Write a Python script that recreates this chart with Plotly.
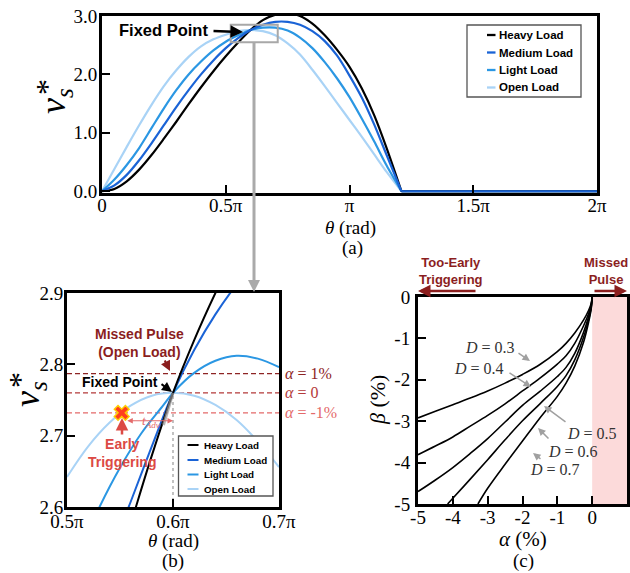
import plotly.graph_objects as go

W, H = 630, 573

# ---------------- Panel (a) data : theta in units of pi ----------------
theta_a = [0, 0.05, 0.1, 0.15, 0.2, 0.25, 0.3, 0.35, 0.4, 0.45, 0.5, 0.55, 0.6,
           0.65, 0.7, 0.75, 0.8, 0.85, 0.9, 0.95, 1.0, 1.05, 1.1, 1.15, 1.21, 1.6, 2.0]
heavy_a = [0, 0.04, 0.17, 0.37, 0.62, 0.9, 1.19, 1.49, 1.78, 2.055, 2.31, 2.545, 2.76,
           2.93, 3.02, 3.05, 3.0, 2.87, 2.67, 2.42, 2.13, 1.76, 1.3, 0.74, 0, 0, 0]
medium_a = [0, 0.1, 0.28, 0.53, 0.82, 1.13, 1.44, 1.73, 2.0, 2.24, 2.45, 2.62, 2.76,
            2.85, 2.9, 2.9, 2.85, 2.74, 2.57, 2.32, 1.98, 1.6, 1.14, 0.62, 0, 0, 0]
light_a = [0, 0.2, 0.45, 0.74, 1.08, 1.42, 1.73, 2.0, 2.22, 2.41, 2.56, 2.67, 2.76,
           2.8, 2.8, 2.75, 2.63, 2.45, 2.21, 1.93, 1.61, 1.24, 0.85, 0.44, 0, 0, 0]
open_a = [0, 0.38, 0.76, 1.13, 1.48, 1.8, 2.07, 2.3, 2.48, 2.6, 2.68, 2.74, 2.76,
          2.74, 2.67, 2.53, 2.34, 2.08, 1.8, 1.51, 1.22, 0.93, 0.63, 0.33, 0, 0, 0]
theta_a_ticks = [0, 0.5, 1, 1.5, 2]
theta_a_labels = ["0", "0.5π", "π", "1.5π", "2π"]
v_a_ticks = [0, 1, 2, 3]
v_a_labels = ["0.0", "1.0", "2.0", "3.0"]
zoom_box_theta = [0.52, 0.71]
zoom_box_v = [2.55, 2.85]
legend_names = ["Heavy Load", "Medium Load", "Light Load", "Open Load"]

# ---------------- Panel (b) data ----------------
heavy_b_theta = [0.555, 0.565, 0.58, 0.6, 0.62, 0.64, 0.65]
heavy_b = [2.55, 2.6, 2.672, 2.76, 2.834, 2.9, 2.93]
medium_b_theta = [0.55, 0.56, 0.58, 0.6, 0.62, 0.64, 0.66, 0.67]
medium_b = [2.57, 2.607, 2.685, 2.76, 2.82, 2.87, 2.912, 2.93]
light_b_theta = [0.52, 0.53, 0.55, 0.57, 0.59, 0.6, 0.62, 0.64, 0.66, 0.68, 0.7]
light_b = [2.565, 2.598, 2.655, 2.703, 2.741, 2.76, 2.788, 2.805, 2.812, 2.808, 2.796]
open_b_theta = [0.5, 0.52, 0.54, 0.56, 0.58, 0.6, 0.62, 0.64, 0.66, 0.68, 0.7]
open_b = [2.642, 2.685, 2.718, 2.742, 2.756, 2.76, 2.756, 2.743, 2.722, 2.692, 2.656]
fixed_point = (0.6, 2.76)
early_point = (0.5516, 2.732)
tangent_theta = [0.6, 0.591]
tangent_v = [2.76, 2.715]
alpha_levels = [2.787, 2.76, 2.732]
alpha_labels = ["<i>α</i> = 1%", "<i>α</i> = 0", "<i>α</i> = -1%"]
alpha_colors = ["#8e2424", "#b43a3a", "#e46a6a"]
theta_b_ticks = [0.5, 0.6, 0.7]
theta_b_labels = ["0.5π", "0.6π", "0.7π"]
v_b_ticks = [2.6, 2.7, 2.8, 2.9]
v_b_labels = ["2.6", "2.7", "2.8", "2.9"]

# ---------------- Panel (c) data ----------------
alpha_grid = [-5, -4.5, -4, -3.5, -3, -2.5, -2, -1.5, -1, -0.75, -0.5, -0.25, -0.1, -0.03, 0]
beta_d03 = [-2.92, -2.76, -2.6, -2.44, -2.27, -2.08, -1.87, -1.63, -1.32, -1.12, -0.87, -0.56, -0.32, -0.16, 0]
beta_d04 = [-3.81, -3.6, -3.38, -3.12, -2.86, -2.58, -2.27, -1.96, -1.62, -1.42, -1.12, -0.7, -0.4, -0.2, 0]
beta_d05 = [-4.7, -4.42, -4.12, -3.78, -3.42, -3.02, -2.62, -2.28, -1.92, -1.7, -1.36, -0.86, -0.47, -0.24, 0]
alpha_d06 = [-4.15, -4, -3.5, -3, -2.5, -2, -1.5, -1, -0.75, -0.5, -0.25, -0.1, -0.03, 0]
beta_d06 = [-5, -4.86, -4.4, -3.93, -3.45, -2.99, -2.58, -2.16, -1.9, -1.52, -0.98, -0.54, -0.27, 0]
alpha_d07 = [-3.28, -3, -2.5, -2, -1.5, -1, -0.75, -0.5, -0.25, -0.1, -0.03, 0]
beta_d07 = [-5, -4.62, -4.04, -3.48, -2.92, -2.4, -2.08, -1.67, -1.1, -0.6, -0.3, 0]
missed_region = [0, 1]
alpha_ticks = [-5, -4, -3, -2, -1, 0, 1]
alpha_tick_labels = ["-5", "-4", "-3", "-2", "-1", "0", "1"]
beta_ticks = [-5, -4, -3, -2, -1, 0]
beta_tick_labels = ["-5", "-4", "-3", "-2", "-1", "0"]

# ---------------- styles ----------------
C_HEAVY = "#000000"
C_MED = "#1a63d6"
C_LIGHT = "#2b97e3"
C_OPEN = "#a9d3f6"
LEG_COLORS = [C_HEAVY, C_MED, C_LIGHT, C_OPEN]
DARKRED = "#8b1e1e"
EARLYRED = "#dc4a44"
SERIF = "Liberation Serif"
SANS = "Liberation Sans"


def px(x):
    return x / W


def py(y):
    return 1 - y / H


fig = go.Figure()

# ---- panel (a) traces (draw order: open, light, heavy, medium) ----
series_a = [
    ("Open Load", open_a, C_OPEN),
    ("Light Load", light_a, C_LIGHT),
    ("Heavy Load", heavy_a, C_HEAVY),
    ("Medium Load", medium_a, C_MED),
]
cut = theta_a.index(1.21)
for name, vals, col in series_a:
    fig.add_trace(go.Scatter(x=theta_a[:cut + 1], y=vals[:cut + 1], mode="lines",
                             line=dict(color=col, width=2.2, shape="spline", smoothing=0.8),
                             name=name, xaxis="x", yaxis="y"))
    fig.add_trace(go.Scatter(x=theta_a[cut:], y=vals[cut:], mode="lines",
                             line=dict(color=col, width=2.2), name=name,
                             xaxis="x", yaxis="y"))

# ---- panel (b) traces ----
for lvl, col in zip(alpha_levels, alpha_colors):
    fig.add_trace(go.Scatter(x=[0.5, 0.7], y=[lvl, lvl], mode="lines",
                             line=dict(color=col, width=1.4, dash="5px,3px"),
                             xaxis="x2", yaxis="y2"))
fig.add_trace(go.Scatter(x=[fixed_point[0], fixed_point[0]], y=[2.6, fixed_point[1]], mode="lines",
                         line=dict(color="#999999", width=1.2, dash="dot"),
                         xaxis="x2", yaxis="y2"))
series_b = [
    ("Open Load", open_b_theta, open_b, C_OPEN),
    ("Light Load", light_b_theta, light_b, C_LIGHT),
    ("Medium Load", medium_b_theta, medium_b, C_MED),
    ("Heavy Load", heavy_b_theta, heavy_b, C_HEAVY),
]
for name, xs, vals, col in series_b:
    fig.add_trace(go.Scatter(x=xs, y=vals, mode="lines",
                             line=dict(color=col, width=2, shape="spline"),
                             name=name, xaxis="x2", yaxis="y2"))
fig.add_trace(go.Scatter(x=tangent_theta, y=tangent_v, mode="lines",
                         line=dict(color="rgba(150,150,150,0.7)", width=3),
                         xaxis="x2", yaxis="y2"))
fig.add_trace(go.Scatter(x=[early_point[0]], y=[early_point[1]], mode="markers",
                         marker=dict(symbol="x", size=13, color="#ff3d1f",
                                     line=dict(color="#ffcc00", width=1.5)),
                         xaxis="x2", yaxis="y2"))

# ---- panel (c) traces ----
curves_c = [(alpha_grid, beta_d03), (alpha_grid, beta_d04), (alpha_grid, beta_d05),
            (alpha_d06, beta_d06), (alpha_d07, beta_d07)]
for xs, ys in curves_c:
    fig.add_trace(go.Scatter(x=xs, y=ys, mode="lines",
                             line=dict(color="black", width=1.6, shape="spline"),
                             xaxis="x3", yaxis="y3"))

axis_common = dict(showline=True, linewidth=3, linecolor="black", mirror=True,
                   ticks="inside", ticklen=8, tickwidth=1.5, tickcolor="black",
                   showgrid=False, zeroline=False, automargin=False,
                   tickfont=dict(family=SERIF, size=19, color="black"))

fig.update_layout(
    template="none",
    width=W, height=H, margin=dict(l=0, r=0, t=0, b=0, autoexpand=False),
    paper_bgcolor="white", plot_bgcolor="white", showlegend=False,
    xaxis=dict(domain=[px(102), px(597)], range=[0, 2], tickvals=theta_a_ticks,
               ticktext=theta_a_labels, anchor="y", ticklabelstandoff=-7, **axis_common),
    yaxis=dict(domain=[py(193), py(16)], range=[-0.03, 3.0], tickvals=v_a_ticks,
               ticktext=v_a_labels, anchor="x", ticklabelstandoff=-2, **axis_common),
    xaxis2=dict(domain=[px(67), px(279)], range=[0.5, 0.7], tickvals=theta_b_ticks,
                ticktext=theta_b_labels, anchor="y2", ticklabelstandoff=-5, **axis_common),
    yaxis2=dict(domain=[py(507), py(293)], range=[2.6, 2.9], tickvals=v_b_ticks,
                ticktext=v_b_labels, anchor="x2", ticklabelstandoff=-3, **axis_common),
    xaxis3=dict(domain=[px(418), px(627)], range=[-5, 1], tickvals=alpha_ticks,
                ticktext=alpha_tick_labels, anchor="y3", ticklabelstandoff=-6, **axis_common),
    yaxis3=dict(domain=[py(504), py(297)], range=[-5, 0], tickvals=beta_ticks,
                ticktext=beta_tick_labels, anchor="x3", ticklabelstandoff=1, **axis_common),
)

shapes = [
    dict(type="rect", xref="x3", yref="y3", x0=missed_region[0], x1=missed_region[1],
         y0=-5, y1=0, fillcolor="#fcdada", line=dict(width=0), layer="below"),
    dict(type="rect", xref="x", yref="y", x0=zoom_box_theta[0], x1=zoom_box_theta[1],
         y0=zoom_box_v[0], y1=zoom_box_v[1], line=dict(color="#a8a8a8", width=2)),
    dict(type="line", xref="paper", yref="paper", x0=px(254), x1=px(254), y0=py(43), y1=py(282),
         line=dict(color="#aaaaaa", width=3)),
    dict(type="path", xref="paper", yref="paper",
         path="M %f %f L %f %f L %f %f Z" % (px(248), py(280), px(260), py(280), px(254), py(292)),
         fillcolor="#aaaaaa", line=dict(width=0)),
]

anns = []


def text(t, x, y, size, color="black", family=SANS, angle=0, xanchor="center"):
    anns.append(dict(text=t, x=px(x), y=py(y), xref="paper", yref="paper", showarrow=False,
                     font=dict(family=family, size=size, color=color), textangle=angle,
                     xanchor=xanchor, yanchor="middle"))


def arrow(x0, y0, x1, y1, color, width, head=2, size=1.0):
    anns.append(dict(text="", x=px(x1), y=py(y1), xref="paper", yref="paper",
                     ax=x0 - x1, ay=y0 - y1, showarrow=True, arrowhead=head, arrowsize=size,
                     arrowwidth=width, arrowcolor=color, standoff=0))


def legend_box(x0, y0, x1, y1, rows, lx0, lx1, tx, size, lw):
    shapes.append(dict(type="rect", xref="paper", yref="paper", x0=px(x0), x1=px(x1),
                       y0=py(y1), y1=py(y0), fillcolor="white",
                       line=dict(color="#555555", width=1.3)))
    for name, col, ry in zip(legend_names, LEG_COLORS, rows):
        shapes.append(dict(type="line", xref="paper", yref="paper", x0=px(lx0), x1=px(lx1),
                           y0=py(ry), y1=py(ry), line=dict(color=col, width=lw)))
        text("<b>%s</b>" % name, tx, ry, size, xanchor="left")


# legends
legend_box(467, 25, 581, 97, [35, 52.5, 70, 87.5], 487, 495.5, 496.5, 11.5, 2.3)
legend_box(178.5, 436, 273, 496, [445, 460, 474.5, 489], 187.5, 198.5, 202, 9.8, 2)

# panel (a)
text("<b>Fixed Point</b>", 163, 30, 16.5)
arrow(212, 31, 243, 32, "black", 2.5)
text("<i>v</i><sub><i>s</i></sub>", 56, 101, 36, family=SERIF, angle=-90)
text("*", 47, 87, 32, family=SERIF, angle=-90)
text("<i>θ</i> (rad)", 350, 228, 19, family=SERIF)
text("(a)", 352, 248, 19, family=SERIF)

# panel (b)
text("<i>v</i><sub><i>s</i></sub>", 29, 394, 36, family=SERIF, angle=-90)
text("*", 20, 380, 32, family=SERIF, angle=-90)
text("<i>θ</i> (rad)", 173, 541, 19, family=SERIF)
text("(b)", 173, 561, 19, family=SERIF)
text("<b>Missed Pulse<br>(Open Load)</b>", 139, 343, 14, color=DARKRED)
arrow(164, 359, 170, 371, DARKRED, 2)
text("<b>Fixed Point</b>", 120, 382, 14)
arrow(160, 383, 172, 392, "black", 2)
text("<b>Early<br>Triggering</b>", 122, 453, 14, color=EARLYRED)
arrow(122, 436, 122, 418, EARLYRED, 2.5)
for lbl, lvl, col in zip(alpha_labels, alpha_levels, alpha_colors):
    text(lbl, 283, 507 - (lvl - 2.6) / 0.3 * 214, 16, color=col, family=SERIF, xanchor="left")
anns.append(dict(text="", x=0.6, y=2.721, xref="x2", yref="y2", ax=0.5555, ay=2.721,
                 axref="x2", ayref="y2", showarrow=True, arrowside="end+start",
                 arrowhead=2, startarrowhead=2, arrowsize=1, startarrowsize=1,
                 arrowwidth=1.1, arrowcolor="#e46a6a", standoff=0, startstandoff=0))
text("<i>t</i><sub><i>Adv</i></sub>", 140, 421, 13, color="#e46a6a", family=SERIF, xanchor="left")

# panel (c)
text("<i>β</i> (%)", 377, 400, 22, family=SERIF, angle=-90)
text("<i>α</i> (%)", 523, 539, 21, family=SERIF)
text("(c)", 523, 561, 19, family=SERIF)
text("<b>Too-Early<br>Triggering</b>", 451, 271, 13, color=DARKRED)
arrow(477, 291, 418, 291, DARKRED, 2.5)
text("<b>Missed<br>Pulse</b>", 606, 271, 13, color=DARKRED)
arrow(593, 291, 627, 291, DARKRED, 2.5)
d_labels = [("<i>D</i> = 0.3", 490, 347, 517, 352, 530, 361),
            ("<i>D</i> = 0.4", 479, 368, 508, 372, 531, 387),
            ("<i>D</i> = 0.5", 592, 433, 567, 423, 544, 406),
            ("<i>D</i> = 0.6", 573, 451, 550, 440, 538, 428),
            ("<i>D</i> = 0.7", 555, 469, 542, 460, 533, 453)]
for t, tx, ty, ax0, ay0, ax1, ay1 in d_labels:
    text(t, tx, ty, 16, color="#333333", family=SERIF)
    arrow(ax0, ay0, ax1, ay1, "#a0a0a0", 1.5)

fig.update_layout(shapes=shapes, annotations=anns)

fig.write_html("out.html", post_script="document.body.style.margin='0';",
               config={"displayModeBar": False})
